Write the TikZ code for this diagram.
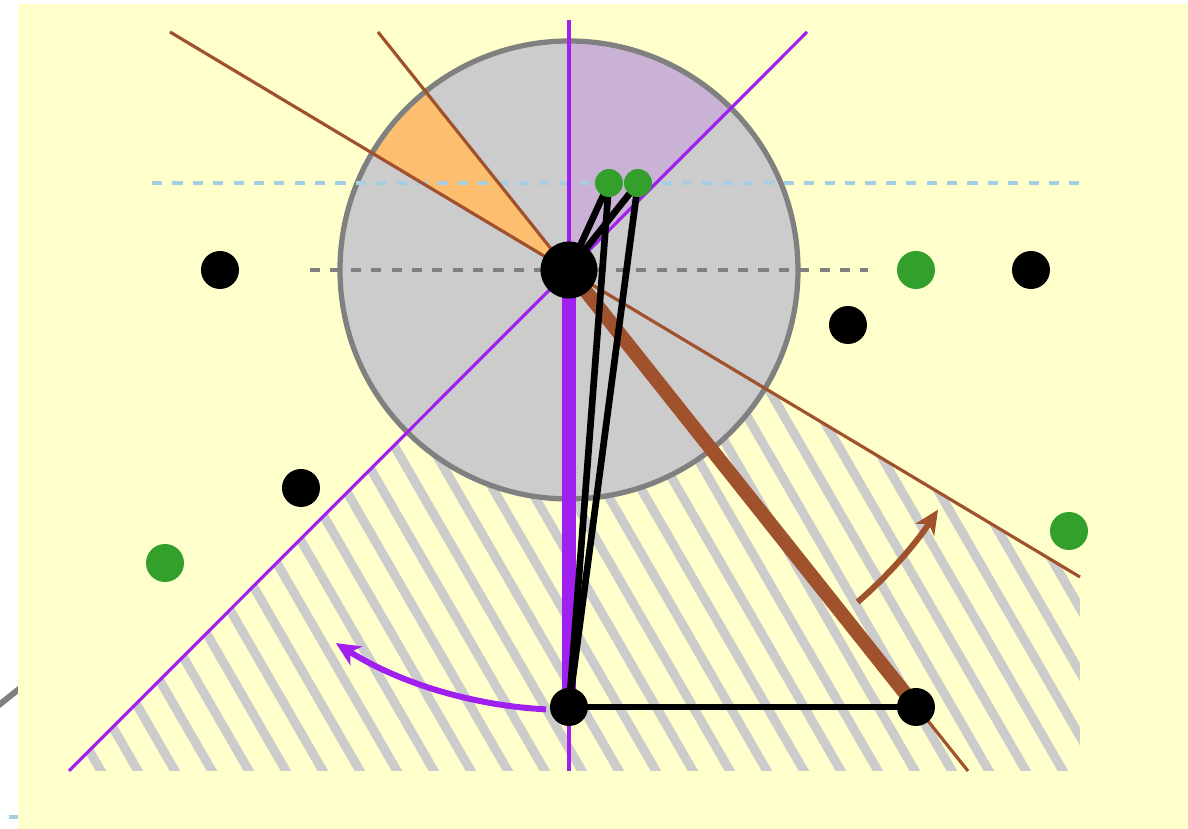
\documentclass[tikz,border=0pt]{standalone}
\usepackage{xcolor}
\usetikzlibrary{arrows.meta,positioning,calc,backgrounds}
\definecolor{bgyellow}{HTML}{FFFFCC}
\definecolor{discgray}{HTML}{CCCCCC}
\definecolor{edgegray}{HTML}{808080}
\definecolor{lightblue}{HTML}{A6CEE3}
\definecolor{lightorange}{HTML}{FDBF6F}
\definecolor{lightpurple}{HTML}{CAB2D6}
\definecolor{rayviolet}{HTML}{A020F0}
\definecolor{raybrown}{HTML}{A0522D}
\definecolor{ptgreen}{HTML}{33A02C}
\tikzset{
  blackdot/.style={circle, fill=black, inner sep=0pt, minimum size=3.8mm},
  greendot/.style={circle, fill=ptgreen, inner sep=0pt, minimum size=3.8mm},
  tinydot/.style={circle, fill=ptgreen, inner sep=0pt, minimum size=2.8mm},
  hatchline/.style={discgray, line width=2.6pt},
  thinray/.style={line width=0.9pt},
  dashline/.style={line width=1pt, dash pattern=on 2.9pt off 2.9pt},
  blackline/.style={black, line width=1.9pt},
  turnarrow/.style={line width=1.7pt, -{Stealth[length=2.4mm, width=2.2mm, inset=0.7mm]}}
}
\begin{document}
\begin{tikzpicture}
\useasboundingbox (-5.69,2.70) rectangle (6.19,-5.59);
% points
\node[blackdot, minimum size=5.7mm] (ctr) at (0,0) {};
\node[blackdot] (base) at (0,-4.37) {};
\node[blackdot] (tip) at (3.47,-4.37) {};
\node[tinydot] (g1) at (0.40,0.87) {};
\node[tinydot] (g2) at (0.69,0.87) {};
\node[blackdot] (p1) at (-3.49,0) {};
\node[blackdot] (p2) at (-2.68,-2.18) {};
\node[blackdot] (p3) at (2.79,-0.55) {};
\node[blackdot] (p4) at (4.62,0) {};
\node[greendot] (q1) at (-4.04,-2.93) {};
\node[greendot] (q2) at (3.47,0) {};
\node[greendot] (q3) at (5.00,-2.61) {};
% ray ends
\coordinate (vtop) at (0,2.50);
\coordinate (vbot) at (0,-5.01);
\coordinate (dtop) at (2.38,2.38);
\coordinate (dbot) at (-5.00,-5.01);
\coordinate (atop) at (-3.99,2.38);
\coordinate (abot) at (5.11,-3.07);
\coordinate (btop) at (-1.91,2.38);
\coordinate (bbot) at (3.99,-5.01);
\begin{scope}[on background layer]
% bits past the left edge
\draw[edgegray, line width=1.7pt] (-5.75,-4.39) -- (-5.45,-4.15);
\draw[lightblue, dashline] (-5.80,-5.47) -- (-5.45,-5.47);
\fill[bgyellow] (-5.51,2.66) rectangle (6.19,-5.59);
% hatched wedge
\begin{scope}
\clip (ctr.center) -- (dbot) -- (5.11,-5.01) -- (abot) -- cycle;
\foreach \k in {0,...,31}
  \draw[hatchline] ({-4.68+0.37*\k},-5.01) ++(-60:0.5) -- ++(120:7.5);
\end{scope}
% disc and sectors
\fill[discgray] (ctr.center) circle (2.29);
\fill[lightorange] (ctr.center) -- ++(128.5:2.29) arc (128.5:149:2.29) -- cycle;
\fill[lightpurple] (ctr.center) -- ++(45:2.29) arc (45:90:2.29) -- cycle;
\draw[edgegray, line width=1.5pt] (ctr.center) circle (2.29);
\draw[lightblue, dashline] (-4.17,0.87) -- (5.11,0.87);
\draw[edgegray, dashline] (-2.59,0) -- (2.99,0);
% rays
\draw[rayviolet, thinray] (vtop) -- (vbot);
\draw[rayviolet, thinray] (dtop) -- (dbot);
\draw[raybrown, thinray] (atop) -- (abot);
\draw[raybrown, thinray] (btop) -- (bbot);
\draw[rayviolet, line width=4.2pt] (ctr.center) -- (base.center);
\draw[raybrown, line width=4pt] (ctr.center) -- (tip.center);
% links
\draw[blackline] (ctr.center) -- (g1.center);
\draw[blackline] (ctr.center) -- (g2.center);
\draw[blackline] (base.center) -- (g1.center);
\draw[blackline] (base.center) -- (g2.center);
\draw[blackline] (base.center) -- (tip.center);
% turns
\draw[rayviolet, turnarrow] ([shift={(267:4.4)}]ctr.center) arc (267:238:4.4);
\draw[raybrown, turnarrow] ([shift={(-49:4.4)}]ctr.center) arc (-49:-33:4.4);
\end{scope}
\end{tikzpicture}
\end{document}
